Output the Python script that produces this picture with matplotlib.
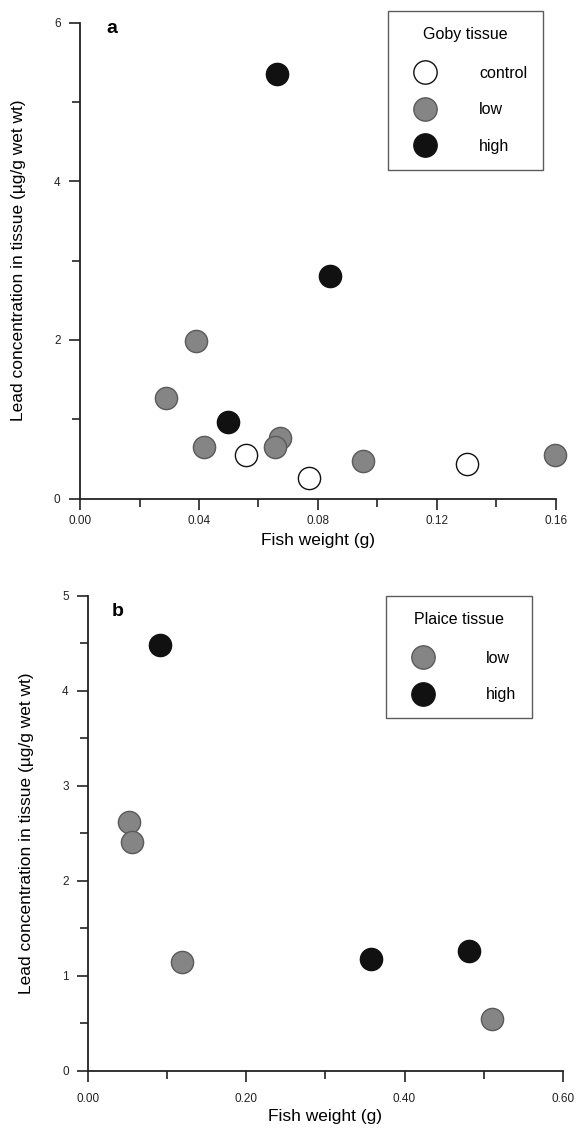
import matplotlib.pyplot as plt
from matplotlib.ticker import MultipleLocator, FixedLocator

plt.rcParams['font.family'] = ['Liberation Sans', 'DejaVu Sans']

# panel a: goby
goby_control_x = [0.0558, 0.0769, 0.130]
goby_control_y = [0.55, 0.26, 0.43]
goby_low_x = [0.0389, 0.0288, 0.0416, 0.0673, 0.0656, 0.0951, 0.1598]
goby_low_y = [1.98, 1.27, 0.65, 0.76, 0.65, 0.47, 0.55]
goby_high_x = [0.0661, 0.0840, 0.0497]
goby_high_y = [5.35, 2.80, 0.97]

# panel b: plaice
plaice_low_x = [0.0513, 0.055, 0.119, 0.511]
plaice_low_y = [2.62, 2.41, 1.14, 0.54]
plaice_high_x = [0.0909, 0.358, 0.4816]
plaice_high_y = [4.48, 1.18, 1.26]

goby_xticks = [0.0, 0.04, 0.08, 0.12, 0.16]
goby_xlabels = ['0.00', '0.04', '0.08', '0.12', '0.16']
plaice_xticks = [0.0, 0.2, 0.4, 0.6]
plaice_xlabels = ['0.00', '0.20', '0.40', '0.60']

GREY = '#858585'
BLACK = '#111111'
MS = 16

fig = plt.figure(figsize=(5.76, 11.33), dpi=100)
ax1 = fig.add_axes([0.139, 0.560, 0.826, 0.420])
ax2 = fig.add_axes([0.153, 0.055, 0.824, 0.419])


def style_axes(ax):
    for s in ['top', 'right']:
        ax.spines[s].set_visible(False)
    for s in ['left', 'bottom']:
        ax.spines[s].set_linewidth(1.3)
        ax.spines[s].set_color('#222222')
    ax.tick_params(which='major', direction='out', length=8, width=1.2, labelsize=8.5, colors='#222222')
    ax.tick_params(which='minor', direction='out', length=6, width=1.2, colors='#222222')
    ax.tick_params(axis='y', pad=6)


def make_legend(ax, title, anchor, textpad):
    leg = ax.legend(title=title, loc='upper right', bbox_to_anchor=anchor,
                    frameon=True, fancybox=False, edgecolor='#333333', fontsize=11.5,
                    title_fontsize=11.5, handletextpad=textpad, labelspacing=1.35,
                    borderpad=1.0, borderaxespad=0, handlelength=2.7, markerscale=1.05)
    leg.get_frame().set_linewidth(1.0)
    leg._legend_box.sep = 17
    return leg


# ---- panel a
ax1.plot(goby_control_x, goby_control_y, 'o', ms=MS, mfc='white', mec=BLACK, mew=1.0, label='control', clip_on=False)
ax1.plot(goby_low_x, goby_low_y, 'o', ms=MS, mfc=GREY, mec='#5a5a5a', mew=1.0, label='low', clip_on=False)
ax1.plot(goby_high_x, goby_high_y, 'o', ms=MS, mfc=BLACK, mec=BLACK, mew=1.0, label='high', clip_on=False)
ax1.set_xlim(0, 0.16)
ax1.set_ylim(0, 6)
ax1.xaxis.set_major_locator(FixedLocator(goby_xticks))
ax1.set_xticklabels(goby_xlabels)
ax1.xaxis.set_minor_locator(MultipleLocator(0.02))
ax1.yaxis.set_major_locator(MultipleLocator(2))
ax1.yaxis.set_minor_locator(MultipleLocator(1))
style_axes(ax1)
ax1.tick_params(axis='x', pad=4)
ax1.set_xlabel('Fish weight (g)', fontsize=12.5, labelpad=4)
ax1.set_ylabel('Lead concentration in tissue (µg/g wet wt)', fontsize=12.5, labelpad=20)
ax1.text(0.055, 1.005, 'a', transform=ax1.transAxes, fontsize=14, fontweight='bold', va='top')
make_legend(ax1, 'Goby tissue', (0.973, 1.024), 2.0)

# ---- panel b
ax2.plot(plaice_low_x, plaice_low_y, 'o', ms=MS, mfc=GREY, mec='#5a5a5a', mew=1.0, label='low', clip_on=False)
ax2.plot(plaice_high_x, plaice_high_y, 'o', ms=MS, mfc=BLACK, mec=BLACK, mew=1.0, label='high', clip_on=False)
ax2.set_xlim(0, 0.6)
ax2.set_ylim(0, 5)
ax2.xaxis.set_major_locator(FixedLocator(plaice_xticks))
ax2.set_xticklabels(plaice_xlabels)
ax2.xaxis.set_minor_locator(MultipleLocator(0.1))
ax2.yaxis.set_major_locator(MultipleLocator(1))
ax2.yaxis.set_minor_locator(MultipleLocator(0.5))
style_axes(ax2)
ax2.tick_params(axis='x', pad=8)
ax2.set_xlabel('Fish weight (g)', fontsize=12.5, labelpad=3)
ax2.set_ylabel('Lead concentration in tissue (µg/g wet wt)', fontsize=12.5, labelpad=20)
ax2.text(0.05, 0.985, 'b', transform=ax2.transAxes, fontsize=14, fontweight='bold', va='top')
make_legend(ax2, 'Plaice tissue', (0.936, 1.0), 2.6)

fig.savefig('out.png', dpi=100)
